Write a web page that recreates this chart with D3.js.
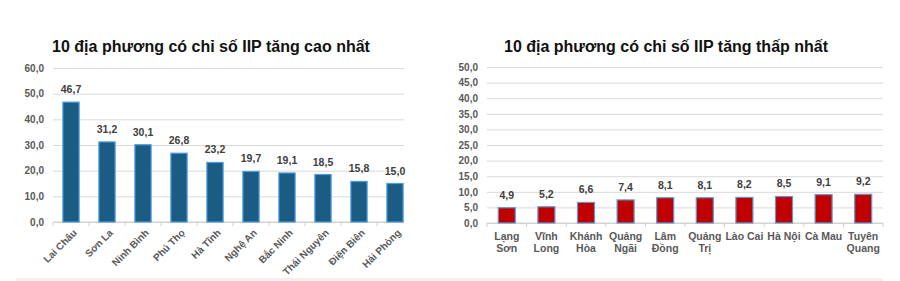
<!DOCTYPE html>
<html>
<head>
<meta charset="utf-8">
<script src="https://cdn.jsdelivr.net/npm/d3@7"></script>
<style>
  body { margin: 0; background: #fff; }
  svg { display: block; font-family: "Liberation Sans", Arial, sans-serif; }
</style>
</head>
<body>
<svg id="chart" width="900" height="281"></svg>
<script>
// top 10
const topNames = ["Lai Châu", "Sơn La", "Ninh Bình", "Phú Thọ", "Hà Tĩnh", "Nghệ An", "Bắc Ninh", "Thái Nguyên", "Điện Biên", "Hải Phòng"];
const topValues = [46.7, 31.2, 30.1, 26.8, 23.2, 19.7, 19.1, 18.5, 15.8, 15.0];
const topTicks = [0, 10, 20, 30, 40, 50, 60];

// bottom 10 (two-line labels)
const lowNames = [["Lạng", "Sơn"], ["Vĩnh", "Long"], ["Khánh", "Hòa"], ["Quảng", "Ngãi"], ["Lâm", "Đồng"], ["Quảng", "Trị"], ["Lào Cai"], ["Hà Nội"], ["Cà Mau"], ["Tuyên", "Quang"]];
const lowValues = [4.9, 5.2, 6.6, 7.4, 8.1, 8.1, 8.2, 8.5, 9.1, 9.2];
const lowTicks = [0, 5, 10, 15, 20, 25, 30, 35, 40, 45, 50];

const svg = d3.select("#chart");
const fmt = v => v.toFixed(1).replace(".", ",");
const grey = "#595959";

// faint band at the bottom
svg.append("rect")
    .attr("x", 16).attr("y", 278)
    .attr("width", 867).attr("height", 3)
    .attr("fill", "#f0f0f0");

function panel(opt) {
    const g = svg.append("g");

    let y = d3.scaleLinear().domain([0, opt.max]).range([opt.y0, opt.y1]);
    let x = d3.scaleBand()
        .domain(d3.range(opt.values.length))
        .range([opt.x0, opt.x1])
        .paddingInner(opt.pad).paddingOuter(opt.pad / 2);

    g.append("text")
        .attr("x", opt.titleX).attr("y", 52)
        .attr("text-anchor", "middle")
        .attr("font-size", 16).attr("font-weight", "bold")
        .attr("fill", "#111")
        .text(opt.title);

    // gridlines + y labels
    const yAxis = g.append("g")
        .attr("transform", "translate(" + opt.x0 + ",0)")
        .call(d3.axisLeft(y).tickValues(opt.ticks).tickFormat(fmt).tickSize(-(opt.gridEnd - opt.x0)).tickPadding(9));
    yAxis.select(".domain").remove();
    yAxis.selectAll("line").attr("stroke", "#d9d9d9");
    yAxis.selectAll("text")
        .attr("font-size", 10).attr("font-weight", "bold")
        .attr("fill", grey).attr("font-family", "Liberation Sans, Arial, sans-serif");

    // x axis line with ticks between categories
    g.append("line")
        .attr("x1", opt.x0).attr("x2", opt.gridEnd)
        .attr("y1", opt.y0).attr("y2", opt.y0)
        .attr("stroke", "#d0d0d0");
    g.selectAll(".sep")
        .data(d3.range(opt.values.length + 1).map(i => opt.x0 + i * x.step()).filter(v => v <= opt.gridEnd + 0.5))
        .enter()
        .append("line")
        .attr("x1", d => d).attr("x2", d => d)
        .attr("y1", opt.y0).attr("y2", opt.y0 + 4)
        .attr("stroke", "#d0d0d0");

    g.selectAll(".bar")
        .data(opt.values)
        .enter()
        .append("rect")
        .attr("x", (d, i) => x(i))
        .attr("y", d => y(d))
        .attr("width", x.bandwidth())
        .attr("height", d => opt.y0 - y(d))
        .attr("fill", opt.color)
        .attr("stroke", opt.stroke)
        .attr("stroke-width", 1.2);

    g.selectAll(".val")
        .data(opt.values)
        .enter()
        .append("text")
        .attr("x", (d, i) => x(i) + x.bandwidth() / 2)
        .attr("y", d => y(d) - 9)
        .attr("text-anchor", "middle")
        .attr("font-size", 10.5).attr("font-weight", "bold")
        .attr("fill", "#404040")
        .text(fmt);

    return {g: g, x: x};
}

const left = panel({
    title: "10 địa phương có chỉ số IIP tăng cao nhất", titleX: 211,
    values: topValues, ticks: topTicks, max: 60,
    x0: 53, x1: 413, gridEnd: 404, y0: 222, y1: 68, pad: 0.55,
    color: "#1b5c84", stroke: "#4d9be0"
});
left.g.selectAll(".cat")
    .data(topNames)
    .enter()
    .append("text")
    .attr("transform", (d, i) => "translate(" + (left.x(i) + left.x.bandwidth() / 2 + 4) + ",231) rotate(-45)")
    .attr("text-anchor", "end")
    .attr("dy", "0.35em")
    .attr("font-size", 10).attr("font-weight", "bold")
    .attr("fill", grey)
    .text(d => d);

const right = panel({
    title: "10 địa phương có chỉ số IIP tăng thấp nhất", titleX: 666,
    values: lowValues, ticks: lowTicks, max: 50,
    x0: 487, x1: 883, gridEnd: 883, y0: 223, y1: 67, pad: 0.57,
    color: "#c00000", stroke: "#5b9bd5"
});
right.g.selectAll(".cat")
    .data(lowNames)
    .enter()
    .append("text")
    .attr("x", (d, i) => right.x(i) + right.x.bandwidth() / 2)
    .attr("y", 240)
    .attr("text-anchor", "middle")
    .attr("font-size", 10.5).attr("font-weight", "bold")
    .attr("fill", grey)
    .each(function(d) {
        const t = d3.select(this);
        d.forEach((line, k) => {
            t.append("tspan")
                .attr("x", t.attr("x"))
                .attr("dy", k === 0 ? 0 : 12)
                .text(line);
        });
    });
</script>
</body>
</html>
